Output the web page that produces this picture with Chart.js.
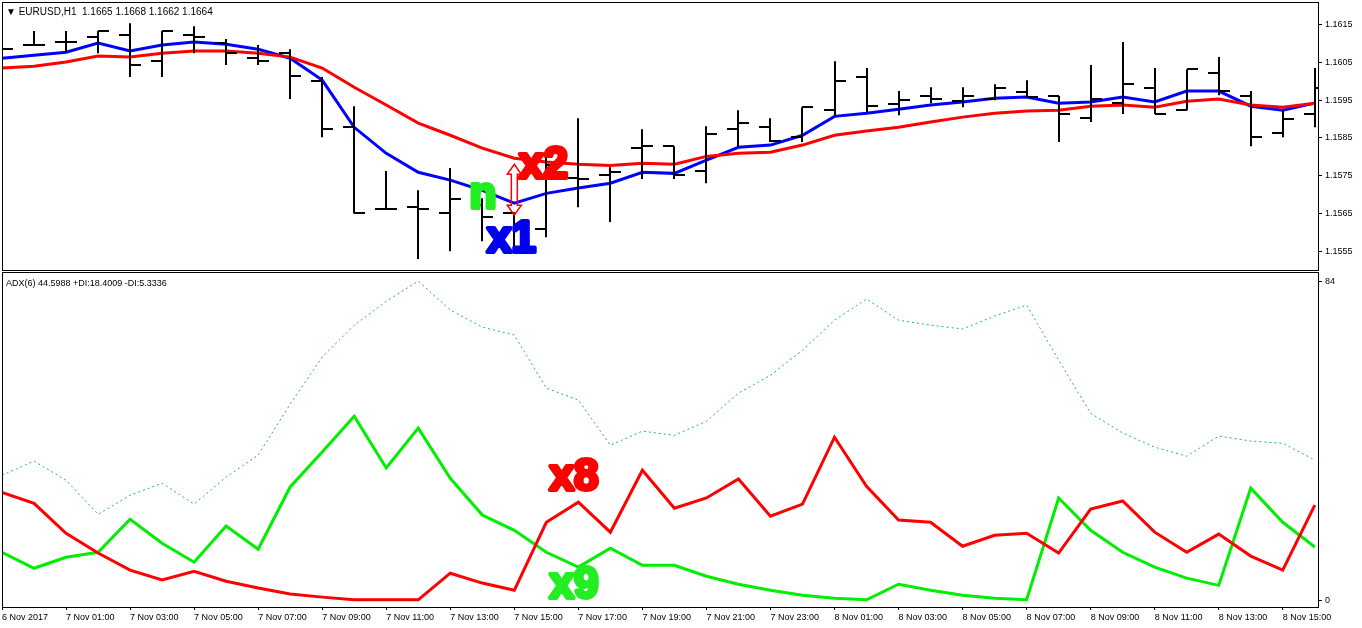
<!DOCTYPE html>
<html>
<head>
<meta charset="utf-8">
<script src="https://cdn.jsdelivr.net/npm/chart.js@4/dist/chart.umd.min.js"></script>
<style>
  html, body { margin: 0; padding: 0; background: #fff; }
  #wrap { position: relative; width: 1362px; height: 628px; }
  canvas { position: absolute; left: 0; }
  #top { top: 0; }
  #bot { top: 271px; }
</style>
</head>
<body>
<div id="wrap">
  <canvas id="top" width="1362" height="271"></canvas>
  <canvas id="bot" width="1362" height="357"></canvas>
</div>
<script>
// EURUSD H1 bars, 6 Nov 23:00 .. 8 Nov 16:00
const opens  = [1.16096,1.16096,1.16104,1.16117,1.16122,1.16053,1.16122,1.16101,1.16061,1.16074,1.16000,1.15878,1.15661,1.15666,1.15650,1.15672,1.15650,1.15608,1.15743,1.15751,1.15823,1.15828,1.15762,1.15873,1.15878,1.15852,1.15923,1.16011,1.15939,1.15961,1.15947,1.15953,1.15971,1.15961,1.15902,1.15942,1.15982,1.15923,1.16021,1.15961,1.15862,1.15913];
const highs  = [1.16125,1.16133,1.16133,1.16133,1.16154,1.16133,1.16146,1.16112,1.16096,1.16085,1.16011,1.15934,1.15762,1.15711,1.15770,1.15690,1.15653,1.15809,1.15902,1.15772,1.15873,1.15828,1.15881,1.15923,1.15902,1.15931,1.16053,1.16035,1.15974,1.15984,1.15984,1.15992,1.16003,1.15961,1.16043,1.16104,1.16035,1.16032,1.16064,1.15974,1.15923,1.16035];
const lows   = [1.16074,1.16096,1.16077,1.16074,1.16011,1.16011,1.16074,1.16043,1.16043,1.15953,1.15852,1.15650,1.15661,1.15529,1.15550,1.15576,1.15544,1.15587,1.15666,1.15627,1.15741,1.15741,1.15730,1.15825,1.15839,1.15839,1.15910,1.15918,1.15910,1.15942,1.15931,1.15950,1.15958,1.15839,1.15892,1.15913,1.15913,1.15923,1.15963,1.15828,1.15852,1.15878];
const closes = [1.16085,1.16096,1.16104,1.16133,1.16043,1.16133,1.16117,1.16074,1.16053,1.16014,1.15873,1.15650,1.15661,1.15661,1.15688,1.15640,1.15621,1.15777,1.15741,1.15759,1.15828,1.15751,1.15860,1.15889,1.15841,1.15931,1.16000,1.15934,1.15950,1.15953,1.15961,1.15982,1.15958,1.15913,1.15953,1.15992,1.15913,1.16032,1.15974,1.15852,1.15900,1.15982];

const maFast = [1.16061,1.16069,1.16077,1.16101,1.16080,1.16096,1.16104,1.16098,1.16085,1.16061,1.16003,1.15878,1.15809,1.15759,1.15738,1.15711,1.15677,1.15703,1.15717,1.15730,1.15759,1.15756,1.15791,1.15825,1.15831,1.15857,1.15907,1.15915,1.15926,1.15937,1.15945,1.15955,1.15958,1.15942,1.15945,1.15958,1.15945,1.15974,1.15974,1.15934,1.15923,1.15942];
const maSlow = [1.16035,1.16040,1.16051,1.16067,1.16064,1.16074,1.16080,1.16080,1.16074,1.16064,1.16035,1.15984,1.15937,1.15889,1.15857,1.15823,1.15796,1.15786,1.15780,1.15777,1.15783,1.15780,1.15801,1.15809,1.15812,1.15831,1.15857,1.15868,1.15878,1.15892,1.15905,1.15915,1.15921,1.15923,1.15934,1.15937,1.15931,1.15947,1.15953,1.15937,1.15931,1.15942];

const adx     = [32.9,36.6,31.6,22.6,27.6,30.8,25.3,32.4,38.2,51.6,64.0,72.4,78.7,84.0,76.4,71.9,69.8,55.8,52.7,40.8,44.5,43.4,47.1,54.5,59.2,65.8,73.7,79.3,73.7,72.4,71.4,74.8,77.7,63.2,49.2,44.0,40.3,37.9,43.2,41.9,41.3,36.9];
const diRed   = [28.4,25.5,17.6,12.4,7.9,5.3,7.6,5.0,3.2,1.6,0.8,0.1,0.1,0.1,7.1,4.5,2.6,20.5,25.8,17.9,34.2,24.2,26.9,31.9,22.1,25.3,42.9,30.0,21.1,20.5,14.2,17.1,17.6,12.4,24.0,26.1,17.9,12.6,17.4,11.6,7.9,25.0];
const diGreen = [12.6,8.4,11.3,12.6,21.3,15.0,10.0,19.5,13.4,29.8,39.0,48.4,34.8,45.3,32.1,22.4,18.4,12.6,8.7,13.7,9.2,9.2,6.3,4.2,2.6,1.3,0.5,0.1,4.2,2.6,1.3,0.5,0.1,26.9,18.4,12.6,8.7,5.8,3.9,29.5,20.5,14.0];

// one label every second bar
const timeLabels = ['6 Nov 2017','7 Nov 01:00','7 Nov 03:00','7 Nov 05:00','7 Nov 07:00','7 Nov 09:00','7 Nov 11:00','7 Nov 13:00','7 Nov 15:00','7 Nov 17:00','7 Nov 19:00','7 Nov 21:00','7 Nov 23:00','8 Nov 01:00','8 Nov 03:00','8 Nov 05:00','8 Nov 07:00','8 Nov 09:00','8 Nov 11:00','8 Nov 13:00','8 Nov 15:00'];
const priceTicks = [1.1555,1.1565,1.1575,1.1585,1.1595,1.1605,1.1615];

const FONT = 'Liberation Sans';
const pts = arr => arr.map((v, i) => ({ x: i, y: v }));
const X_MAX = 41.1;

const frame = {
    id: 'frame',
    afterDraw(chart) {
        const { ctx, chartArea: a } = chart;
        ctx.save();
        ctx.strokeStyle = '#000';
        ctx.lineWidth = 1;
        ctx.strokeRect(a.left + 0.5, a.top + 0.5, a.right - a.left, a.bottom - a.top);
        ctx.restore();
    }
};

function text(ctx, s, x, y, color, font) {
    ctx.fillStyle = color;
    ctx.font = font;
    ctx.fillText(s, x, y);
}

// heavy label: filled and outlined so it looks like Arial Black
function bigText(ctx, s, x, y, color) {
    ctx.font = 'bold 44px "Liberation Sans"';
    ctx.lineJoin = 'round';
    ctx.lineWidth = 4;
    ctx.strokeStyle = color;
    ctx.fillStyle = color;
    ctx.strokeText(s, x, y);
    ctx.fillText(s, x, y);
}

const ohlcPlugin = {
    id: 'ohlc',
    afterDatasetsDraw(chart) {
        const { ctx, scales: { x, y } } = chart;
        ctx.save();
        ctx.beginPath();
        ctx.rect(chart.chartArea.left + 1, chart.chartArea.top, chart.chartArea.width, chart.chartArea.height);
        ctx.clip();
        ctx.strokeStyle = '#000';
        ctx.lineWidth = 2;
        opens.forEach((o, i) => {
            const px = Math.round(x.getPixelForValue(i));
            ctx.beginPath();
            ctx.moveTo(px, y.getPixelForValue(highs[i]));
            ctx.lineTo(px, y.getPixelForValue(lows[i]));
            const yo = Math.round(y.getPixelForValue(o));
            const yc = Math.round(y.getPixelForValue(closes[i]));
            ctx.moveTo(px - 11, yo); ctx.lineTo(px, yo);
            ctx.moveTo(px, yc); ctx.lineTo(px + 11, yc);
            ctx.stroke();
        });
        ctx.restore();
    },
    afterDraw(chart) {
        const { ctx, scales: { x, y } } = chart;
        ctx.save();
        // hollow double arrow between the averages
        const ax = x.getPixelForValue(16), y1 = y.getPixelForValue(maSlow[16]) + 6, y2 = y.getPixelForValue(maFast[16]) + 12;
        ctx.strokeStyle = '#ff0000';
        ctx.lineWidth = 1.5;
        ctx.beginPath();
        ctx.moveTo(ax, y1);
        ctx.lineTo(ax + 7, y1 + 10); ctx.lineTo(ax + 3, y1 + 10);
        ctx.lineTo(ax + 3, y2 - 10); ctx.lineTo(ax + 7, y2 - 10);
        ctx.lineTo(ax, y2);
        ctx.lineTo(ax - 7, y2 - 10); ctx.lineTo(ax - 3, y2 - 10);
        ctx.lineTo(ax - 3, y1 + 10); ctx.lineTo(ax - 7, y1 + 10);
        ctx.closePath();
        ctx.stroke();
        bigText(ctx, 'x2', x.getPixelForValue(16.15), y.getPixelForValue(1.15743), '#ff0000');
        bigText(ctx, 'n', x.getPixelForValue(14.6), y.getPixelForValue(1.15663), '#22ee22');
        bigText(ctx, 'x1', x.getPixelForValue(15.15), y.getPixelForValue(1.15547), '#0000ee');
        text(ctx, '\u25BC EURUSD,H1  1.1665 1.1668 1.1662 1.1664', 6, 15, '#000', '10px ' + FONT);
        ctx.restore();
    }
};

const adxPlugin = {
    id: 'adxText',
    afterDraw(chart) {
        const { ctx, scales: { x, y } } = chart;
        ctx.save();
        bigText(ctx, 'x8', x.getPixelForValue(17.1), y.getPixelForValue(29), '#ff0000');
        bigText(ctx, 'x9', x.getPixelForValue(17.1), y.getPixelForValue(0.6), '#22ee22');
        text(ctx, 'ADX(6) 44.5988 +DI:18.4009 -DI:5.3336', 6, 15, '#000', '9px ' + FONT);
        ctx.restore();
    }
};

Chart.defaults.font.family = FONT;
Chart.defaults.color = '#000';

const noPad = s => { s.paddingTop = 0; s.paddingBottom = 0; };
const xHidden = { type: 'linear', min: 0, max: X_MAX, display: false };

new Chart(document.getElementById('top'), {
    type: 'line',
    data: {
        datasets: [
            { data: pts(maSlow), borderColor: '#ff0000', borderWidth: 3, pointRadius: 0, tension: 0 },
            { data: pts(maFast), borderColor: '#0000ff', borderWidth: 3, pointRadius: 0, tension: 0 }
        ]
    },
    options: {
        responsive: false, animation: false,
        layout: { padding: { left: 2, top: 2, right: 0, bottom: 1 } },
        plugins: { legend: { display: false }, tooltip: { enabled: false } },
        scales: {
            x: xHidden,
            y: {
                position: 'right', min: 1.1550, max: 1.1621,
                afterBuildTicks: s => { s.ticks = priceTicks.map(v => ({ value: v })); },
                afterFit: s => { s.width = 44; noPad(s); },
                border: { display: false },
                grid: { drawOnChartArea: false, tickLength: 4, color: '#000' },
                ticks: { font: { size: 9 }, padding: 3, callback: v => v.toFixed(4) }
            }
        }
    },
    plugins: [frame, ohlcPlugin]
});

new Chart(document.getElementById('bot'), {
    type: 'line',
    data: {
        datasets: [
            { data: pts(adx), borderColor: '#20a8a8', borderWidth: 1, borderDash: [2, 3], pointRadius: 0, tension: 0 },
            { data: pts(diRed), borderColor: '#ff0000', borderWidth: 3, pointRadius: 0, tension: 0 },
            { data: pts(diGreen), borderColor: '#00ee00', borderWidth: 3, pointRadius: 0, tension: 0 }
        ]
    },
    options: {
        responsive: false, animation: false,
        layout: { padding: { left: 2, top: 1, right: 0, bottom: 0 } },
        plugins: { legend: { display: false }, tooltip: { enabled: false } },
        scales: {
            x: {
                type: 'linear', min: 0, max: X_MAX,
                afterBuildTicks: s => { s.ticks = timeLabels.map((_, k) => ({ value: k * 2 })); },
                afterFit: s => { s.height = 21; s.paddingLeft = 0; s.paddingRight = 0; },
                border: { display: false },
                grid: { drawOnChartArea: false, tickLength: 3, color: '#000' },
                ticks: { font: { size: 9 }, padding: 2, maxRotation: 0, autoSkip: false, align: 'start',
                         callback: (v) => timeLabels[v / 2] }
            },
            y: {
                position: 'right', min: -1.8, max: 86.4,
                afterBuildTicks: s => { s.ticks = [{ value: 0 }, { value: 84 }]; },
                afterFit: s => { s.width = 44; noPad(s); },
                border: { display: false },
                grid: { drawOnChartArea: false, tickLength: 4, color: '#000' },
                ticks: { font: { size: 9 }, padding: 3 }
            }
        }
    },
    plugins: [frame, adxPlugin]
});
</script>
</body>
</html>
